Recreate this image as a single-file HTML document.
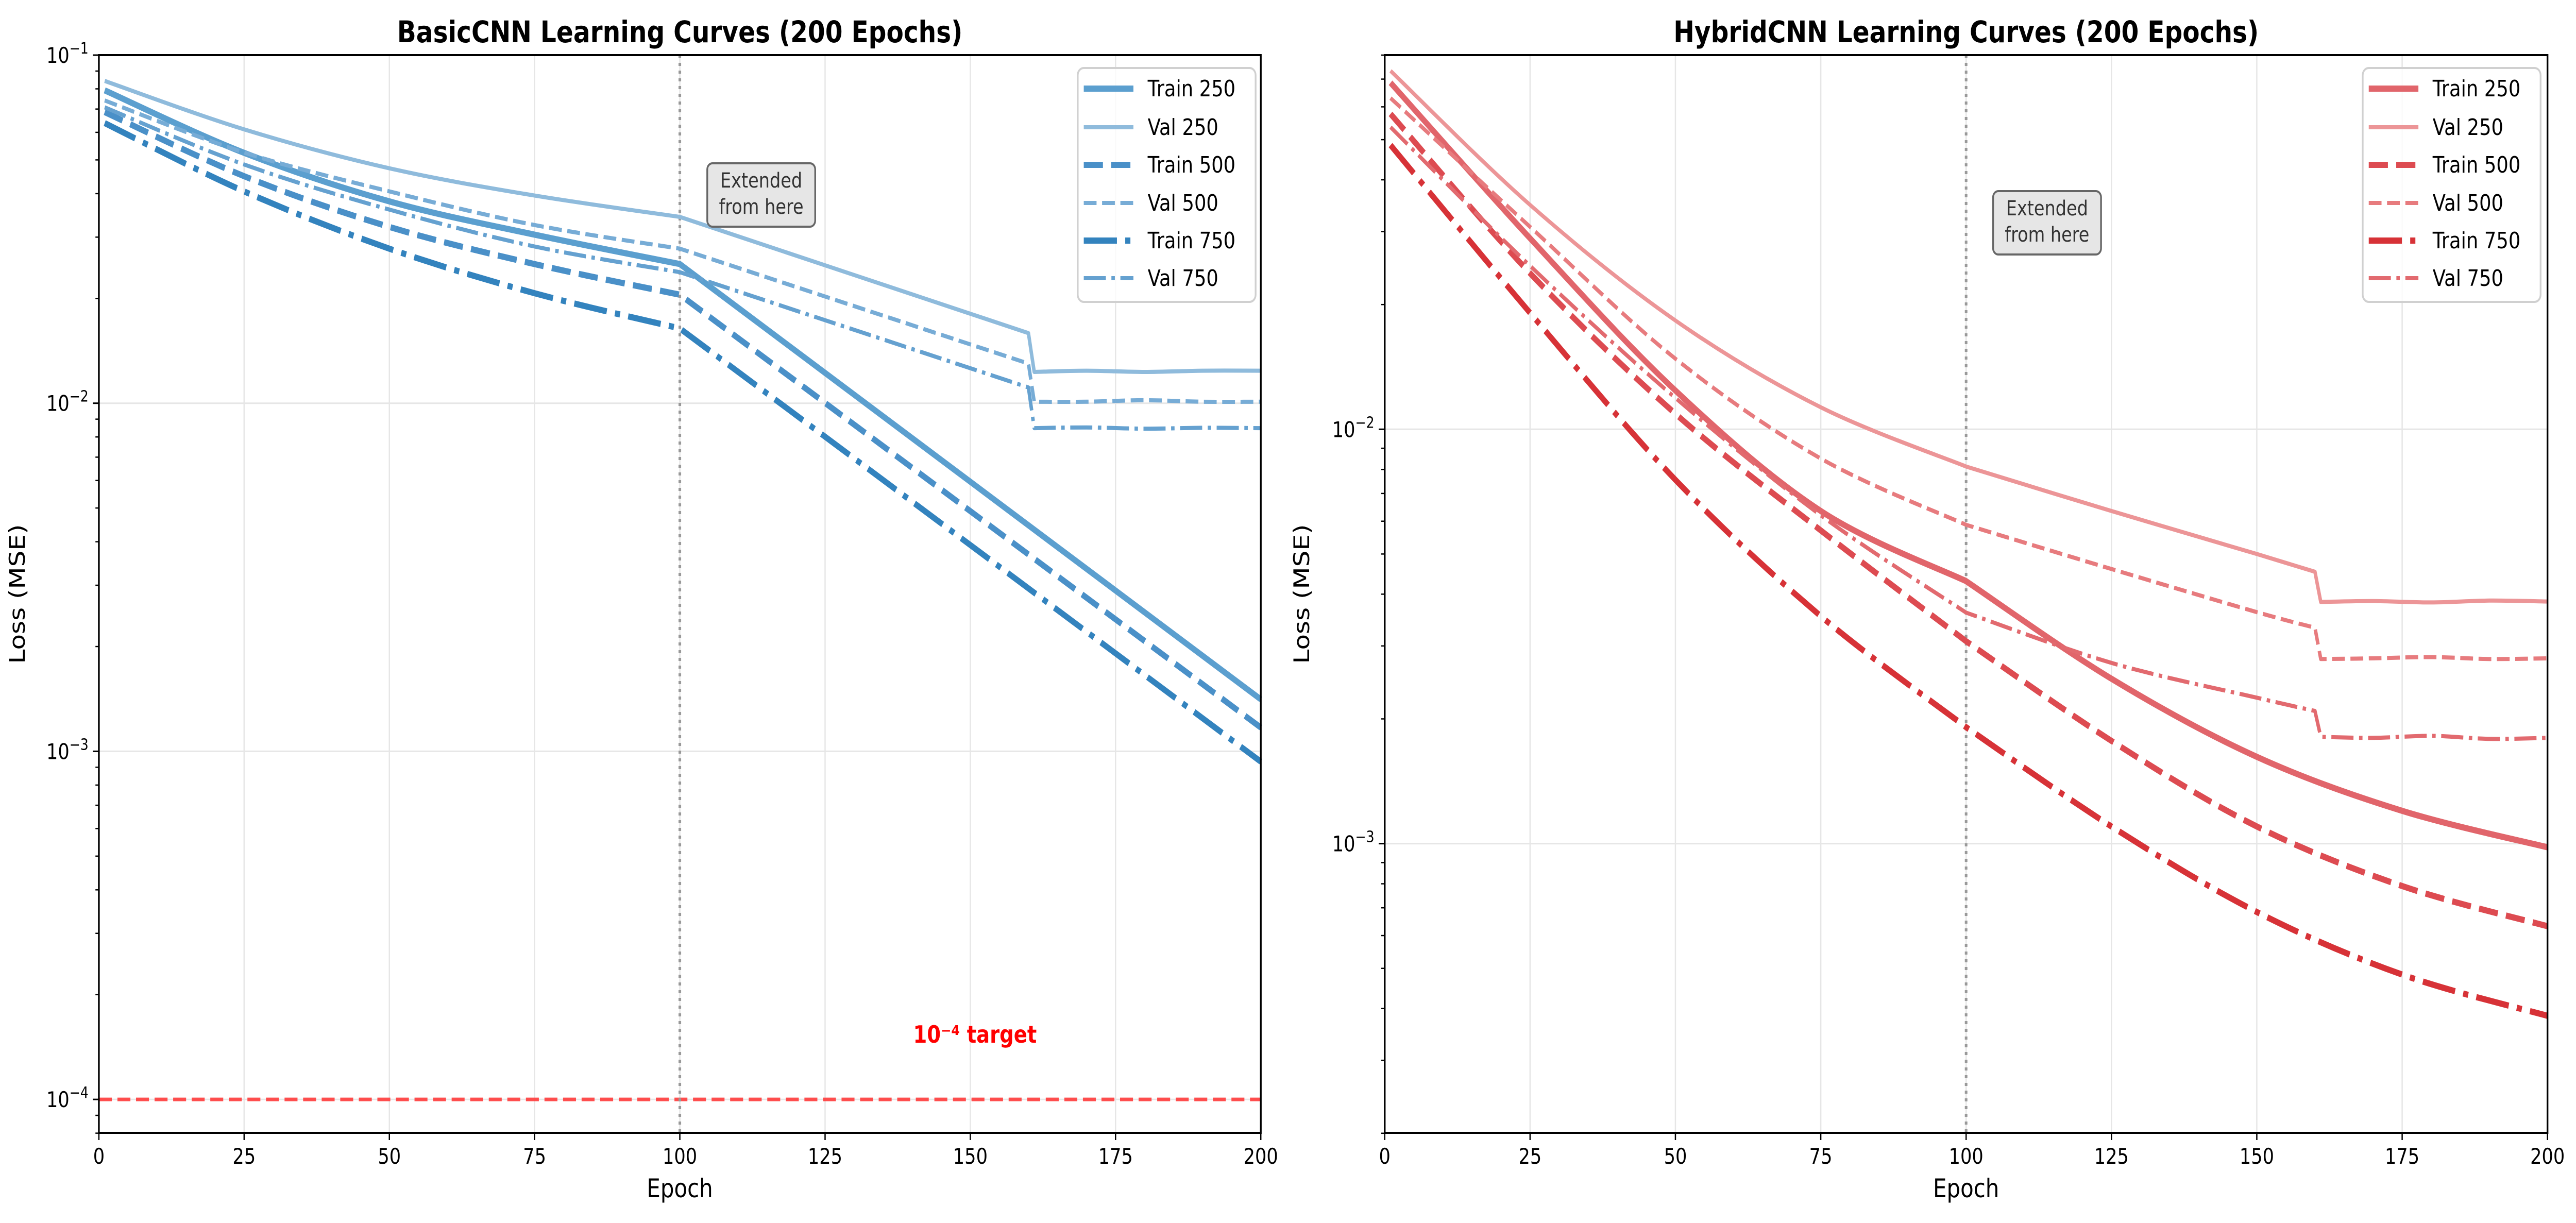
<!DOCTYPE html>
<html><head><meta charset="utf-8">
<style>
html,body{margin:0;padding:0;background:#fff;overflow:hidden;width:100%;height:100%;}
svg{display:block;width:100vw;height:100vh;font-family:"DejaVu Sans","Liberation Sans",sans-serif;}
</style></head>
<body>
<svg id="chart" xmlns="http://www.w3.org/2000/svg" viewBox="0 0 5966 2374" preserveAspectRatio="none">
<rect width="5966" height="2374" fill="#fff"/>
</svg>
<script>
// ---- data (epochs and loss values) ----
const basicTrainEpochs = [1, 25, 50, 75, 100, 200];
const basicTrain250 = [0.0792, 0.0524, 0.038, 0.0305, 0.0251, 0.00141];
const basicTrain500 = [0.0686, 0.0449, 0.0321, 0.0251, 0.0205, 0.00117];
const basicTrain750 = [0.0638, 0.0406, 0.0278, 0.0207, 0.0164, 0.000934];
const basicValEpochs = [1, 25, 50, 75, 100, 160, 161, 170, 180, 190, 200];
const basicVal250 = [0.0843, 0.0612, 0.0473, 0.0395, 0.0343, 0.0159, 0.0123, 0.0124, 0.0123, 0.0124, 0.0124];
const basicVal500 = [0.0741, 0.0525, 0.0406, 0.0325, 0.0278, 0.0130, 0.0101, 0.0101, 0.0102, 0.0101, 0.0101];
const basicVal750 = [0.0708, 0.0485, 0.036, 0.0282, 0.0238, 0.0111, 0.00848, 0.00852, 0.00845, 0.0085, 0.00848];

const hybridTrainEpochs = [1, 25, 50, 75, 100, 125, 150, 175, 200];
const hybridTrain250 = [0.0686, 0.0289, 0.0124, 0.00635, 0.0043, 0.0025, 0.00162, 0.0012, 0.00098];
const hybridTrain500 = [0.0577, 0.0238, 0.0109, 0.0057, 0.00308, 0.00177, 0.0011, 0.00079, 0.000632];
const hybridTrain750 = [0.0485, 0.0191, 0.00755, 0.00354, 0.00191, 0.0011, 0.000684, 0.000483, 0.000384];
const hybridValEpochs = [1, 25, 50, 75, 100, 125, 150, 160, 161, 170, 180, 190, 200];
const hybridVal250 = [0.0733, 0.0348, 0.0183, 0.0113, 0.00813, 0.00635, 0.0050, 0.00453, 0.00383, 0.00385, 0.00382, 0.00386, 0.00384];
const hybridVal500 = [0.063, 0.0308, 0.0148, 0.0085, 0.00588, 0.0046, 0.00362, 0.00332, 0.00279, 0.0028, 0.00282, 0.00279, 0.0028];
const hybridVal750 = [0.0536, 0.0248, 0.0119, 0.0062, 0.00361, 0.00273, 0.00225, 0.00209, 0.00181, 0.0018, 0.00182, 0.00179, 0.0018];

const xTickLabels = ["0","25","50","75","100","125","150","175","200"];
const xTickValues = [0,25,50,75,100,125,150,175,200];
const seriesLabels = ["Train 250","Val 250","Train 500","Val 500","Train 750","Val 750"];
const targetValue = 1e-4;
const extendEpoch = 100;

// ---- helpers ----
const svg = document.getElementById('chart');
const NS = 'http://www.w3.org/2000/svg';
function mk(tag, attrs, parent){
  const e = document.createElementNS(NS, tag);
  for (const k in attrs) e.setAttribute(k, attrs[k]);
  (parent||svg).appendChild(e);
  return e;
}
function makeAxes(x0, x1, y0, y1, logTop, logBottom){
  return {
    x0, x1, y0, y1,
    sx: v => x0 + (v/200)*(x1-x0),
    sy: v => y0 + (logTop - Math.log10(v))/(logTop-logBottom)*(y1-y0)
  };
}
function pathFor(ax, ep, vals, breaks){
  const pts = ep.map((e,i)=>[ax.sx(e), ax.sy(vals[i])]);
  const pieces = []; let cur=[pts[0]];
  for (let i=1;i<pts.length;i++){
    cur.push(pts[i]);
    if (breaks.includes(ep[i]) && i<pts.length-1){ pieces.push(cur); cur=[pts[i]]; }
  }
  pieces.push(cur);
  let d = 'M'+pts[0][0].toFixed(1)+','+pts[0][1].toFixed(1);
  pieces.forEach(p=>{
    for (let i=0;i<p.length-1;i++){
      const p0=p[i-1]||p[i], p1=p[i], p2=p[i+1], p3=p[i+2]||p2;
      const c1=[p1[0]+(p2[0]-p0[0])/6, p1[1]+(p2[1]-p0[1])/6];
      const c2=[p2[0]-(p3[0]-p1[0])/6, p2[1]-(p3[1]-p1[1])/6];
      d+=' C'+c1[0].toFixed(1)+','+c1[1].toFixed(1)+' '+c2[0].toFixed(1)+','+c2[1].toFixed(1)+' '+p2[0].toFixed(1)+','+p2[1].toFixed(1);
    }
  });
  return d;
}
function dashFor(style, lw){
  if (style==='dash') return (3.7*lw)+','+(1.6*lw);
  if (style==='dashdot') return (6.4*lw)+','+(1.6*lw)+','+(1*lw)+','+(1.6*lw);
  return 'none';
}
function tickLabel(g, x, y, exp){
  const t = mk('text', {x:x, y:y, 'text-anchor':'end', 'font-size':42, fill:'#000'}, g);
  
  
  const a = document.createElementNS(NS,'tspan'); a.textContent='10'; t.appendChild(a);
  const b = document.createElementNS(NS,'tspan'); b.setAttribute('dy','-18'); b.setAttribute('font-size','30'); b.textContent='\u2212'+exp; t.appendChild(b);
}

function drawPanel(cfg){
  const ax = cfg.ax;
  const g = mk('g', {});
  
  
  xTickValues.forEach(v=>{
    const l = mk('line',{x1:ax.sx(v),x2:ax.sx(v),y1:ax.y0,y2:ax.y1,stroke:'#e6e6e6','stroke-width':3},g);
     
  });
  cfg.majorExps.forEach(e=>{
    const y = ax.sy(Math.pow(10,-e));
    const l = mk('line',{x1:ax.x0,x2:ax.x1,y1:y,y2:y,stroke:'#e6e6e6','stroke-width':3},g);
     
  });
  if (cfg.target){
    const y = ax.sy(targetValue);
    const l = mk('line',{x1:ax.x0,x2:ax.x1,y1:y,y2:y,stroke:'#ff3b3b','stroke-opacity':0.9,'stroke-width':7,'stroke-dasharray':'30,13'},g);
     
    const t = mk('text',{x:2258,y:2024,'text-anchor':'middle','font-size':46,'font-weight':'bold',fill:'#ff0000'},g);
     
    t.textContent='10\u207B\u2074 target';
  }
  const vx = ax.sx(extendEpoch);
  const vl = mk('line',{x1:vx,x2:vx,y1:ax.y0,y2:ax.y1,stroke:'#999','stroke-width':6,'stroke-dasharray':'6,9'},g);
   
  cfg.series.forEach(s=>{
    const p = mk('path',{d:pathFor(ax,s.ep,s.vals,[100,160,161]),fill:'none',stroke:s.color,'stroke-width':s.lw,'stroke-dasharray':dashFor(s.style,s.lw),'stroke-linejoin':'round'},g);
    
    
  });
  const ab = cfg.annot;
  const r = mk('rect',{x:ab.x,y:ab.y,width:250,height:123,rx:12,fill:'#e6e6e6',stroke:'#666','stroke-width':4},g);
   
  const at = mk('text',{x:ab.x+125,y:ab.y+47,'text-anchor':'middle','font-size':40,fill:'#333'},g);
   
  at.textContent='Extended';
  const at2 = mk('text',{x:ab.x+125,y:ab.y+98,'text-anchor':'middle','font-size':40,fill:'#333'},g);
   
  at2.textContent='from here';
  const fr = mk('rect',{x:ax.x0,y:ax.y0,width:ax.x1-ax.x0,height:ax.y1-ax.y0,fill:'none',stroke:'#000','stroke-width':4},g);
   
  xTickValues.forEach((v,i)=>{
    const x = ax.sx(v);
    const tk = mk('line',{x1:x,x2:x,y1:ax.y1,y2:ax.y1+14,stroke:'#000','stroke-width':3},g);
     
    const t = mk('text',{x:x,y:ax.y1+60,'text-anchor':'middle','font-size':42,fill:'#000'},g);
     
    t.textContent = xTickLabels[i];
  });
  for (let e=cfg.expMin; e<=cfg.expMax; e++){
    for (let m=1;m<=9;m++){
      const v = m*Math.pow(10,-e);
      const y = ax.sy(v);
      if (y < ax.y0-1 || y > ax.y1+1) continue;
      const len = m===1?14:8;
      const tk = mk('line',{x1:ax.x0-len,x2:ax.x0,y1:y,y2:y,stroke:'#000','stroke-width':m===1?3:2.5},g);
       
      if (m===1) tickLabel(g, ax.x0-24, y+15, e);
    }
  }
  const tt = mk('text',{x:(ax.x0+ax.x1)/2,y:82,'text-anchor':'middle','font-size':58,'font-weight':'bold',fill:'#000'},g);
   
  tt.textContent = cfg.title;
  const xl = mk('text',{x:(ax.x0+ax.x1)/2,y:2324,'text-anchor':'middle','font-size':50,fill:'#000'},g);
   
  xl.textContent='Epoch';
  const yl = mk('text',{x:0,y:0,'text-anchor':'middle','font-size':50,fill:'#000',transform:'translate('+(cfg.ylabelX+17)+','+((ax.y0+ax.y1)/2)+') rotate(-90)'},g);
   
  yl.textContent='Loss (MSE)';
  const L = cfg.legend;
  const lg = mk('g',{},g);
   
  mk('rect',{x:L.x,y:132,width:412,height:454,rx:14,fill:'#fff','fill-opacity':0.8,stroke:'#d0d0d0','stroke-width':4},lg);
  const rows=[172,247,320,394,467,540];
  cfg.series.forEach((s,i)=>{
    const y=rows[i];
    const h = mk('line',{x1:L.x+14,x2:L.x+129,y1:y,y2:y,stroke:s.color,'stroke-width':s.lw,'stroke-dasharray':dashFor(s.style,s.lw)},lg);
     
    const t = mk('text',{x:L.x+162,y:y+15,'font-size':44,fill:'#000'},lg);
     
    t.textContent = seriesLabels[i];
  });
}

const axL = makeAxes(229, 2920, 107, 2199, -1, -4.096);
drawPanel({
  name:'basiccnn-panel', ax:axL, title:'BasicCNN Learning Curves (200 Epochs)',
  majorExps:[1,2,3,4], expMin:1, expMax:5, target:true, ylabelX:40,
  annot:{x:1638,y:317}, legend:{x:2496},
  series:[
    {name:'basic-train-250', ep:basicTrainEpochs, vals:basicTrain250, color:'#5b9fcf', lw:12, style:'solid'},
    {name:'basic-val-250', ep:basicValEpochs, vals:basicVal250, color:'#8fbbdc', lw:8, style:'solid'},
    {name:'basic-train-500', ep:basicTrainEpochs, vals:basicTrain500, color:'#4a90c8', lw:12, style:'dash'},
    {name:'basic-val-500', ep:basicValEpochs, vals:basicVal500, color:'#77acd6', lw:8, style:'dash'},
    {name:'basic-train-750', ep:basicTrainEpochs, vals:basicTrain750, color:'#3383be', lw:12, style:'dashdot'},
    {name:'basic-val-750', ep:basicValEpochs, vals:basicVal750, color:'#65a1d0', lw:8, style:'dashdot'}
  ]
});
const axR = makeAxes(3207, 5900, 107, 2199, -1.097, -3.698);
drawPanel({
  name:'hybridcnn-panel', ax:axR, title:'HybridCNN Learning Curves (200 Epochs)',
  majorExps:[2,3], expMin:1, expMax:4, target:false, ylabelX:3015,
  annot:{x:4616,y:371}, legend:{x:5472},
  series:[
    {name:'hybrid-train-250', ep:hybridTrainEpochs, vals:hybridTrain250, color:'#e1656b', lw:12, style:'solid'},
    {name:'hybrid-val-250', ep:hybridValEpochs, vals:hybridVal250, color:'#ec9597', lw:8, style:'solid'},
    {name:'hybrid-train-500', ep:hybridTrainEpochs, vals:hybridTrain500, color:'#dd4b51', lw:12, style:'dash'},
    {name:'hybrid-val-500', ep:hybridValEpochs, vals:hybridVal500, color:'#e77b7e', lw:8, style:'dash'},
    {name:'hybrid-train-750', ep:hybridTrainEpochs, vals:hybridTrain750, color:'#d73237', lw:12, style:'dashdot'},
    {name:'hybrid-val-750', ep:hybridValEpochs, vals:hybridVal750, color:'#e26a6f', lw:8, style:'dashdot'}
  ]
});
</script>
</body></html>
